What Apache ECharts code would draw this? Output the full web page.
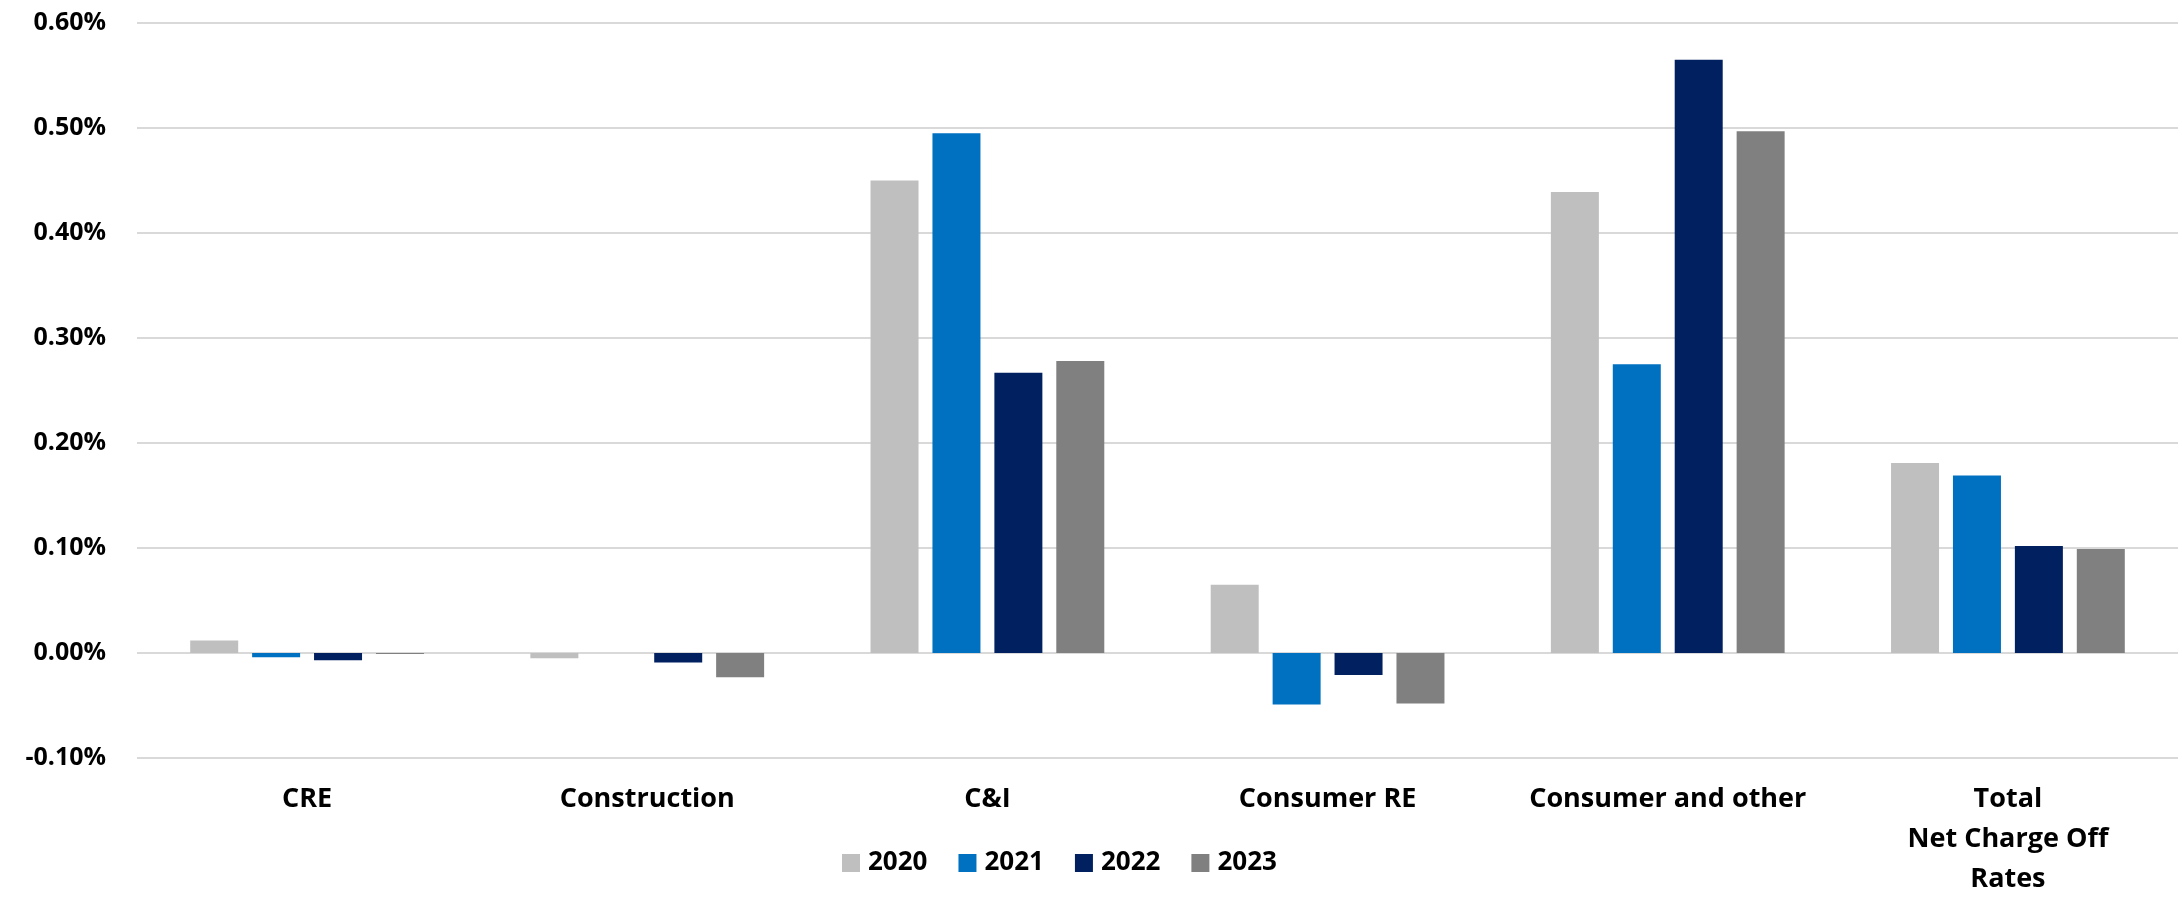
<!DOCTYPE html>
<html>
<head>
<meta charset="utf-8">
<title>Net Charge Off Rates by Loan Type</title>
<script src="https://cdn.jsdelivr.net/npm/echarts@6/dist/echarts.min.js"></script>
<style>
  html, body { margin: 0; padding: 0; background: #ffffff; }
  #chart { width: 2182px; height: 899px; }
</style>
</head>
<body>
<div id="chart"></div>
<script>
// Loan categories along the x axis
const categories = ['CRE', 'Construction', 'C&I', 'Consumer RE', 'Consumer and other', 'Total\nNet Charge Off\nRates'];

// Net charge off rates, in percent
const years = ['2020', '2021', '2022', '2023'];
const rates2020 = [0.012, -0.005, 0.450, 0.065, 0.439, 0.181];
const rates2021 = [-0.004, 0.000, 0.495, -0.049, 0.275, 0.169];
const rates2022 = [-0.007, -0.009, 0.267, -0.021, 0.565, 0.102];
const rates2023 = [-0.001, -0.023, 0.278, -0.048, 0.497, 0.099];

// Y axis range and step, in percent
const yMin = -0.1;
const yMax = 0.6;
const yStep = 0.1;

const seriesData = [rates2020, rates2021, rates2022, rates2023];
const colors = ['#BFBFBF', '#0070C0', '#002060', '#808080'];
const fontFamily = '"Open Sans", "Noto Sans", sans-serif';

const chart = echarts.init(document.getElementById('chart'), null, { renderer: 'canvas' });

chart.setOption({
  animation: false,
  backgroundColor: '#ffffff',
  color: colors,
  grid: { left: 137, right: 4, top: 23, bottom: 135, containLabel: false },
  legend: {
    data: years,
    left: 842,
    top: 849,
    padding: 0,
    itemWidth: 18,
    itemHeight: 18,
    itemGap: 31,
    icon: 'rect',
    textStyle: {
      fontFamily: fontFamily,
      fontWeight: 'bold',
      fontSize: 26,
      lineHeight: 28,
      color: '#000000',
      padding: [0, 0, 0, 3]
    }
  },
  xAxis: {
    type: 'category',
    data: categories,
    position: 'bottom',
    axisLine: { show: false, onZero: false },
    axisTick: { show: false },
    splitLine: { show: false },
    axisLabel: {
      interval: 0,
      margin: 21,
      fontFamily: fontFamily,
      fontWeight: 'bold',
      fontSize: 27,
      lineHeight: 40,
      color: '#000000',
      align: 'center'
    }
  },
  yAxis: {
    type: 'value',
    min: yMin,
    max: yMax,
    interval: yStep,
    axisLine: { show: false },
    axisTick: { show: false },
    splitLine: { show: true, lineStyle: { color: '#D9D9D9', width: 2 } },
    axisLabel: {
      margin: 31,
      fontFamily: fontFamily,
      fontWeight: 'bold',
      fontSize: 25,
      color: '#000000',
      formatter: function (v) { return v.toFixed(2) + '%'; }
    }
  },
  series: years.map(function (year, i) {
    return {
      name: year,
      type: 'bar',
      data: seriesData[i],
      barWidth: 48,
      barGap: '29%',
      itemStyle: { color: colors[i] },
      emphasis: { disabled: true }
    };
  })
});
</script>
</body>
</html>
